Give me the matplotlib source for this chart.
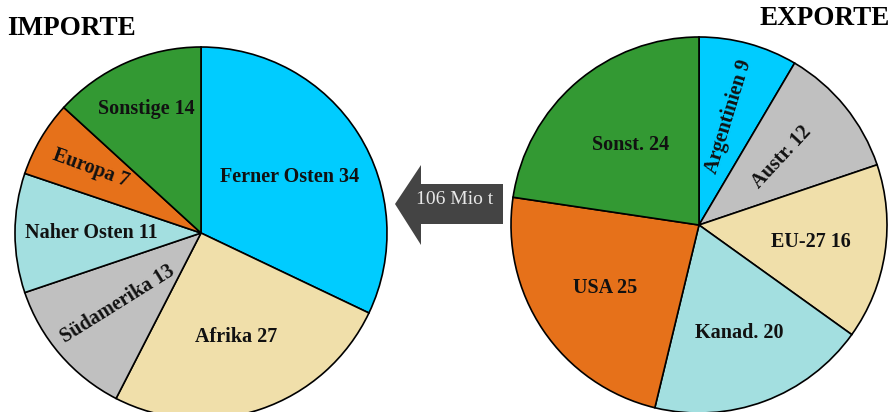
import numpy as np
import matplotlib.pyplot as plt
from matplotlib.patches import Polygon

# Import data (Mio t)
imp_labels = ["Ferner Osten", "Afrika", "Südamerika", "Naher Osten", "Europa", "Sonstige"]
imp_values = [34, 27, 13, 11, 7, 14]
imp_colors = ["#00CCFF", "#F0DFAA", "#C0C0C0", "#A3DFE0", "#E6711A", "#339933"]

# Export data (Mio t)
exp_labels = ["Argentinien", "Austr.", "EU-27", "Kanad.", "USA", "Sonst."]
exp_values = [9, 12, 16, 20, 25, 24]
exp_colors = ["#00CCFF", "#C0C0C0", "#F0DFAA", "#A3DFE0", "#E6711A", "#339933"]

total_label = "106 Mio t"

W, H = 890, 412
fig = plt.figure(figsize=(W / 100, H / 100), dpi=100)
ax = fig.add_axes([0, 0, 1, 1])

serif = "Liberation Serif"


def draw_pie(values, colors, labels, center, radius, fracs, rots):
    wedges, _ = ax.pie(values, colors=colors, startangle=90, counterclock=False,
                       center=center, radius=radius,
                       wedgeprops=dict(edgecolor="black", linewidth=1.2))
    for w, lab, v, f, r in zip(wedges, labels, values, fracs, rots):
        mid = np.deg2rad((w.theta1 + w.theta2) / 2)
        x = center[0] + radius * f * np.cos(mid)
        y = center[1] + radius * f * np.sin(mid)
        ax.text(x, y, f"{lab} {v}", ha="center", va="center", rotation=r,
                fontsize=14.5, fontweight="bold", family=serif, color="#111111")


# pixel centres converted to y-up coordinates
draw_pie(imp_values, imp_colors, imp_labels, (201, H - 233), 186,
         [0.56, 0.59, 0.59, 0.59, 0.69, 0.73], [0, 0, 32, 0, -20, 0])
draw_pie(exp_values, exp_colors, exp_labels, (699, H - 225), 188,
         [0.6, 0.57, 0.6, 0.61, 0.6, 0.56], [73, 47, 0, 0, 0, 0])

# arrow between the pies
arrow = Polygon([(395, H - 204), (421, H - 165), (421, H - 184), (503, H - 184),
                 (503, H - 224), (421, H - 224), (421, H - 245)],
                closed=True, facecolor="#444444", edgecolor="none")
ax.add_patch(arrow)
ax.text(455, H - 199, total_label, ha="center", va="center", fontsize=14,
        family=serif, color="#E8E8E8")

ax.text(7, H - 28, "IMPORTE", ha="left", va="center", fontsize=19.5,
        fontweight="bold", family=serif)
ax.text(890, H - 18, "EXPORTE", ha="right", va="center", fontsize=19.5,
        fontweight="bold", family=serif)

ax.set_xlim(0, W)
ax.set_ylim(0, H)
ax.set_aspect("auto")
ax.axis("off")

fig.savefig("out.png", dpi=100, facecolor="white")
